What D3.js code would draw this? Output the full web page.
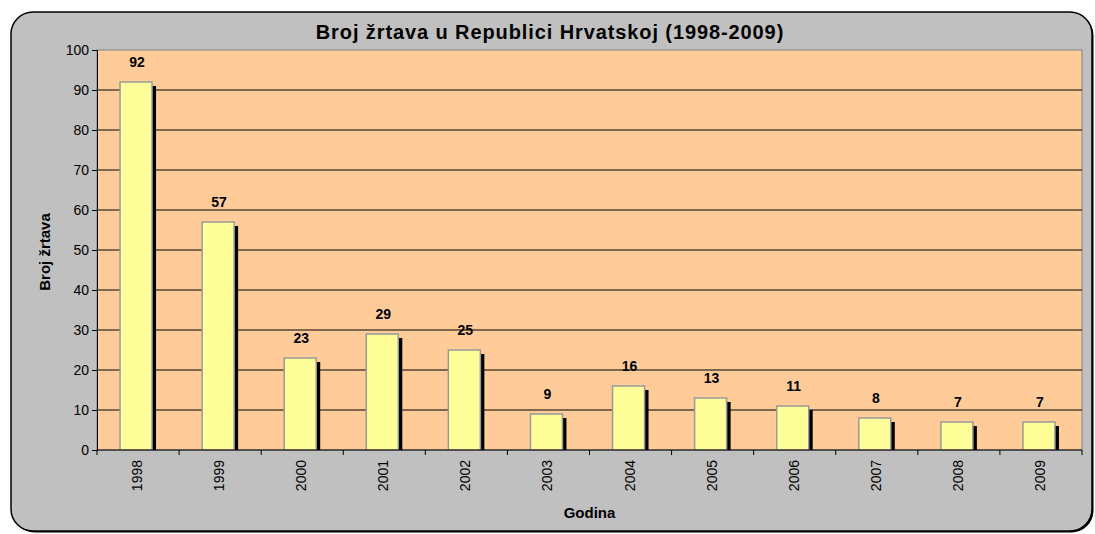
<!DOCTYPE html>
<html>
<head>
<meta charset="utf-8">
<script src="https://cdn.jsdelivr.net/npm/d3@7"></script>
<style>
  body { margin: 0; background: #fff; }
  svg text { font-family: "Liberation Sans", Arial, sans-serif; }
</style>
</head>
<body>
<div id="root"></div>
<script>
// DATA
let years = ["1998","1999","2000","2001","2002","2003","2004","2005","2006","2007","2008","2009"];
let victims = [92, 57, 23, 29, 25, 9, 16, 13, 11, 8, 7, 7];
let yTicks = [0,10,20,30,40,50,60,70,80,90,100];

// DIMENSIONS
let W = 1095, H = 534;
let plotL = 97, plotR = 1082, plotT = 50, plotB = 450;

let svg = d3.select('#root').append('svg')
  .attr('width', W).attr('height', H);

// outer frame (with a little shadow on bottom/right)
svg.append('rect')
  .attr('x', 12.5).attr('y', 13.5)
  .attr('width', 1081).attr('height', 519)
  .attr('rx', 22).attr('ry', 22)
  .style('fill', '#000');
svg.append('rect')
  .attr('x', 11).attr('y', 12)
  .attr('width', 1081).attr('height', 519)
  .attr('rx', 22).attr('ry', 22)
  .style('fill', '#c0c0c0')
  .style('stroke', '#000').style('stroke-width', 1.5);

let x = d3.scaleBand().domain(years).range([plotL, plotR]);
let y = d3.scaleLinear().domain([0, 100]).range([plotB, plotT]);

// plot area
svg.append('rect')
  .attr('x', plotL).attr('y', plotT)
  .attr('width', plotR - plotL).attr('height', plotB - plotT)
  .style('fill', '#ffcc99')
  .style('stroke', '#808080').style('stroke-width', 1);

// gridlines
svg.append('g').selectAll('line')
  .data(yTicks.filter(d => d > 0 && d < 100))
  .enter().append('line')
  .attr('x1', plotL).attr('x2', plotR)
  .attr('y1', d => y(d)).attr('y2', d => y(d))
  .style('stroke', '#000').style('stroke-width', 1);

let barW = 32, shadow = 4;
let barX = d => x(d) + (x.bandwidth() - barW - shadow) / 2;

// shadows
svg.append('g').selectAll('rect')
  .data(years)
  .enter().append('rect')
  .attr('x', (d) => barX(d) + shadow)
  .attr('y', (d, i) => y(victims[i]) + shadow)
  .attr('width', barW)
  .attr('height', (d, i) => plotB - y(victims[i]) - shadow)
  .style('fill', '#000');

// bars
svg.append('g').selectAll('rect')
  .data(years)
  .enter().append('rect')
  .attr('x', d => barX(d))
  .attr('y', (d, i) => y(victims[i]))
  .attr('width', barW)
  .attr('height', (d, i) => plotB - y(victims[i]))
  .style('fill', '#ffff99')
  .style('stroke', '#999').style('stroke-width', 1.5);

// value labels
svg.append('g').selectAll('text')
  .data(years)
  .enter().append('text')
  .attr('x', d => barX(d) + barW / 2 + 1)
  .attr('y', (d, i) => y(victims[i]) - 15)
  .attr('text-anchor', 'middle')
  .style('font-size', '14px').style('font-weight', 'bold')
  .text((d, i) => victims[i]);

// y axis
let yAxis = svg.append('g')
  .attr('transform', `translate(${plotL},0)`)
  .call(d3.axisLeft(y).tickValues(yTicks).tickSize(5).tickPadding(3));
yAxis.select('.domain').style('stroke', '#000');
yAxis.selectAll('text').style('font-size', '14px').style('fill', '#000');

// x axis
svg.append('line')
  .attr('x1', plotL).attr('x2', plotR)
  .attr('y1', plotB).attr('y2', plotB)
  .style('stroke', '#000');
svg.append('g').selectAll('line')
  .data(years.concat(['end']))
  .enter().append('line')
  .attr('x1', (d, i) => i < years.length ? x(d) : plotR)
  .attr('x2', (d, i) => i < years.length ? x(d) : plotR)
  .attr('y1', plotB).attr('y2', plotB + 5)
  .style('stroke', '#000');

svg.append('g').selectAll('text')
  .data(years)
  .enter().append('text')
  .attr('transform', d => `translate(${barX(d) + barW / 2 + 6},${plotB + 10}) rotate(-90)`)
  .attr('text-anchor', 'end')
  .style('font-size', '14px')
  .text(d => d);

// titles
svg.append('text')
  .attr('x', 550).attr('y', 39)
  .attr('text-anchor', 'middle')
  .style('font-size', '20px').style('font-weight', 'bold')
  .style('letter-spacing', '0.9px')
  .text('Broj žrtava u Republici Hrvatskoj (1998-2009)');

svg.append('text')
  .attr('x', (plotL + plotR) / 2).attr('y', 518)
  .attr('text-anchor', 'middle')
  .style('font-size', '15px').style('font-weight', 'bold')
  .text('Godina');

svg.append('text')
  .attr('transform', 'translate(50,252) rotate(-90)')
  .attr('text-anchor', 'middle')
  .style('font-size', '15px').style('font-weight', 'bold')
  .text('Broj žrtava');
</script>
</body>
</html>
